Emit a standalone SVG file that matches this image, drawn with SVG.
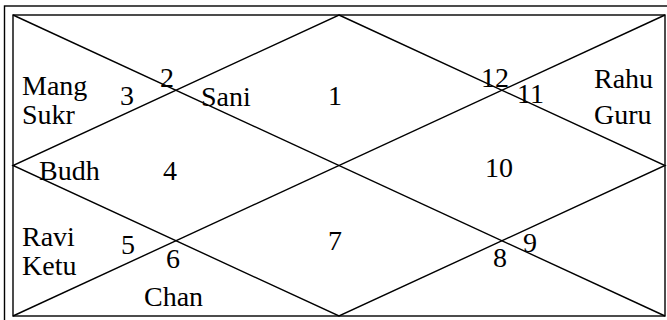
<svg xmlns="http://www.w3.org/2000/svg" width="667" height="320" viewBox="0 0 667 320">
<style>
.ln{fill:none;stroke:#000;stroke-width:1.4}
text{font-family:"Liberation Serif","Times New Roman",serif;font-size:28px;fill:#000}
</style>
<rect x="0" y="0" width="667" height="320" fill="#fff"/>
<g id="frame">
<rect class="ln" x="4.5" y="6" width="680" height="330"/>
<rect class="ln" x="13" y="15" width="652" height="301"/>
</g>
<g id="connectors">
<line class="ln" x1="13" y1="15" x2="665" y2="316"/>
<line class="ln" x1="665" y1="15" x2="13" y2="316"/>
<polygon class="ln" points="339,15 665,165.5 339,316 13,165.5"/>
</g>
<g id="house1"><text x="328" y="105">1</text></g>
<g id="house2"><text x="160" y="87">2</text></g>
<g id="house3"><text x="120" y="105">3</text><text x="22" y="95">Mang</text><text x="22" y="124">Sukr</text></g>
<g id="house2planets"><text x="201" y="106">Sani</text></g>
<g id="house4"><text x="163" y="180">4</text><text x="39" y="180">Budh</text></g>
<g id="house5"><text x="121" y="254">5</text><text x="22" y="246">Ravi</text><text x="22" y="275">Ketu</text></g>
<g id="house6"><text x="166" y="268">6</text><text x="144" y="306">Chan</text></g>
<g id="house7"><text x="328" y="250">7</text></g>
<g id="house8"><text x="493" y="267">8</text></g>
<g id="house9"><text x="523" y="252">9</text></g>
<g id="house10"><text x="485" y="177">10</text></g>
<g id="house11"><text x="517" y="103">11</text><text x="594" y="88">Rahu</text><text x="594" y="124">Guru</text></g>
<g id="house12"><text x="481" y="87">12</text></g>
</svg>
